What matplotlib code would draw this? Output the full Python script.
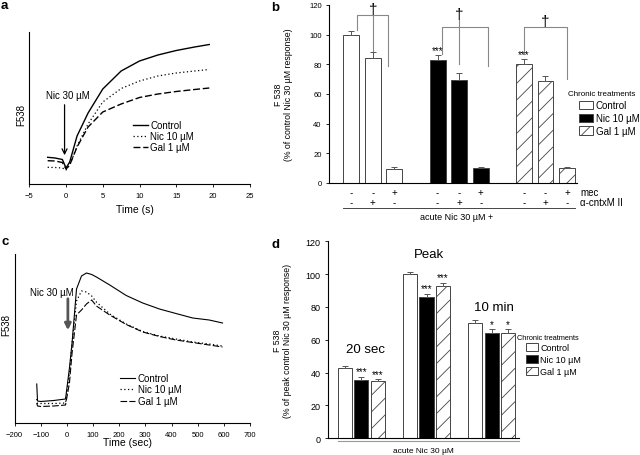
import matplotlib
matplotlib.use("Agg")
import matplotlib.pyplot as plt
from matplotlib.patches import Patch

plt.rcParams['font.family'] = ['Liberation Sans', 'DejaVu Sans']
plt.rcParams['hatch.linewidth'] = 0.6
plt.rcParams['axes.linewidth'] = 0.8

# ---- panel a: fast time course (arbitrary F538 units)
a_time = [-2.5, -1.5, -0.5, 0, 0.5, 1.5, 3, 5, 7.5, 10, 12.5, 15, 17.5, 19.5]
a_control = [26.7, 26, 24.5, 16, 22, 48, 71, 95, 113, 123, 129, 133.5, 137, 139.5]
a_nic = [16.7, 16.5, 16, 14, 19, 38, 60, 82, 95.5, 103, 108, 111, 113, 114.5]
a_gal = [23.3, 23, 21.5, 15, 19, 37, 57, 72, 80, 86.5, 90, 92.5, 94.5, 96]

# ---- panel c: slow time course (arbitrary F538 units)
c_time = [-115, -112, -100, -50, -5, 10, 20, 37, 56, 75, 95, 113, 164, 227, 290,
          354, 417, 481, 544, 595]
c_control = [39, 22, 21.5, 22.5, 24, 55, 80, 134, 147, 150, 148.5, 146, 138, 127.5,
             120, 114, 109.5, 105, 103, 100]
c_nic = [24, 19.5, 19.5, 19.5, 20, 50, 80, 122, 132, 131, 127, 121, 109, 99, 91.5,
         87, 84, 81, 79, 77]
c_gal = [20, 17, 16.5, 17, 18, 40, 70, 108, 113, 119, 123, 117, 108, 98.5, 91,
         86.5, 83, 80.5, 78, 76]

# ---- panel b: % of control Nic 30 uM response
treatments = ['Control', 'Nic 10 \u00b5M', 'Gal 1 \u00b5M']
b_control = [100, 84.5, 9.5]
b_nic = [83, 69.5, 10]
b_gal = [80, 68.5, 10]
b_control_err = [2.5, 4, 1.5]
b_nic_err = [3.5, 4.5, 0.5]
b_gal_err = [3.5, 3.5, 1]
mec = ['-', '-', '+']
cntx = ['-', '+', '-']

# ---- panel d: % of peak control Nic 30 uM response
timepoints = ['20 sec', 'Peak', '10 min']
d_control = [43, 100, 70]
d_nic = [35.6, 86.2, 64.2]
d_gal = [34.6, 92.7, 64.2]
d_control_err = [1.2, 1.2, 1.8]
d_nic_err = [1.8, 2, 2.2]
d_gal_err = [1.4, 2, 2.2]
d_stars = [['', '***', '***'], ['', '***', '***'], ['', '*', '*']]

fills = ['white', 'black', 'white']
hatches = [None, None, '//']
EDGE = '#444444'
W, H = 640, 456


def fig_rect(x0, y0, x1, y1):
    # pixel box (top-left origin) -> figure fraction
    return [x0 / W, 1 - y1 / H, (x1 - x0) / W, (y1 - y0) / H]


def style_trace_axes(ax):
    for s in ['top', 'right']:
        ax.spines[s].set_visible(False)
    ax.set_yticks([])
    ax.tick_params(axis='x', direction='out', length=2.5, width=0.6, labelsize=5.5, pad=3)


def style_bar_axes(ax, labelsize):
    for s in ['top', 'right']:
        ax.spines[s].set_visible(False)
    ax.set_ylim(0, 120)
    ax.set_yticks(range(0, 121, 20))
    ax.set_xticks([])
    ax.tick_params(axis='y', direction='out', length=2.5, width=0.6,
                   labelsize=labelsize, pad=3)


fig = plt.figure(figsize=(6.4, 4.56), dpi=100)

# ================= a
ax = fig.add_axes(fig_rect(29.3, 33, 249.7, 185))
style_trace_axes(ax)
ax.plot(a_time, a_control, color='black', lw=1.0, label='Control')
ax.plot(a_time, a_nic, color='black', lw=0.9, ls=(0, (1, 2)), label='Nic 10 \u00b5M')
ax.plot(a_time, a_gal, color='black', lw=1.0, ls=(0, (5, 2)), label='Gal 1 \u00b5M')
ax.set_xlim(-5, 25)
ax.set_ylim(0, 152)
ax.set_xticks(range(-5, 26, 5))
ax.annotate('', xy=(-0.2, 26), xytext=(-0.2, 82),
            arrowprops=dict(arrowstyle='->', color='black', lw=0.9, mutation_scale=9))
ax.text(0.2, 89, 'Nic 30 \u00b5M', ha='center', va='center', fontsize=7)
ax.set_ylabel('F538', fontsize=7)
ax.yaxis.set_label_coords(-0.012, 0.46)
ax.set_xlabel('Time (s)', fontsize=7.5)
ax.xaxis.set_label_coords(0.48, -0.13)
ax.legend(loc='upper left', bbox_to_anchor=(133 / W, 1 - 121 / H),
          bbox_transform=fig.transFigure, frameon=False, fontsize=7,
          borderpad=0, borderaxespad=0, handlelength=1.5, handletextpad=0.3,
          labelspacing=0.1)

# ================= c
ax = fig.add_axes(fig_rect(14.5, 255, 250, 424))
style_trace_axes(ax)
ax.plot(c_time, c_control, color='black', lw=0.8, label='Control')
ax.plot(c_time, c_nic, color='black', lw=0.9, ls=(0, (1, 2)), label='Nic 10 \u00b5M')
ax.plot(c_time, c_gal, color='black', lw=0.8, ls=(0, (6, 2)), label='Gal 1 \u00b5M')
ax.set_xlim(-200, 700)
ax.set_ylim(0, 169)
ax.set_xticks(range(-200, 701, 100))
ax.annotate('', xy=(4, 90), xytext=(4, 127),
            arrowprops=dict(arrowstyle='-|>', color='#555555', lw=2, mutation_scale=9))
ax.text(-58, 131, 'Nic 30 \u00b5M', ha='center', va='center', fontsize=7)
ax.set_ylabel('F538', fontsize=7)
ax.yaxis.set_label_coords(-0.012, 0.586)
ax.set_xlabel('Time (sec)', fontsize=7.5)
ax.xaxis.set_label_coords(0.478, -0.083)
ax.legend(loc='upper left', bbox_to_anchor=(120 / W, 1 - 374 / H),
          bbox_transform=fig.transFigure, frameon=False, fontsize=7,
          borderpad=0, borderaxespad=0, handlelength=1.5, handletextpad=0.3,
          labelspacing=0.15)

# ================= b
ax = fig.add_axes(fig_rect(329.3, 6, 577, 184))
style_bar_axes(ax, 5.5)
ax.set_xlim(-1.02, 10.46)
b_vals = [b_control, b_nic, b_gal]
b_errs = [b_control_err, b_nic_err, b_gal_err]
trx = ax.get_xaxis_transform()
for g, (vals, errs) in enumerate(zip(b_vals, b_errs)):
    xs = [g * 4 + i for i in range(3)]
    ax.bar(xs, vals, width=0.74, color=fills[g], edgecolor=EDGE, linewidth=0.7,
           hatch=hatches[g], yerr=[[0] * 3, errs], capsize=2.5,
           error_kw=dict(ecolor='#555555', elinewidth=0.7, capthick=0.7))
    for i, x in enumerate(xs):
        ax.text(x, -0.05, mec[i], transform=trx, ha='center', va='center', fontsize=7)
        ax.text(x, -0.107, cntx[i], transform=trx, ha='center', va='center', fontsize=7)
ax.text(10.6, -0.05, 'mec', transform=trx, ha='left', va='center', fontsize=7)
ax.text(10.6, -0.107, '\u03b1-cntxM II', transform=trx, ha='left', va='center', fontsize=7)
ax.plot([-0.39, 10.38], [-0.14, -0.14], transform=trx, color='#444444', lw=0.7,
        clip_on=False)
ax.text(4.9, -0.19, 'acute Nic 30 \u00b5M +', transform=trx, ha='center',
        va='center', fontsize=6.5)
ax.text(4, 86.5, '***', ha='center', va='bottom', fontsize=7)
ax.text(8, 83.5, '***', ha='center', va='bottom', fontsize=7)

# dagger brackets
GR = '#888888'
ax.plot([0.25, 0.25, 1.7, 1.7], [103, 113.5, 113.5, 79], color=GR, lw=0.8)
ax.plot([1, 1], [89, 113], color=GR, lw=0.8)
ax.text(1, 117.5, '\u2020', ha='center', va='center', fontsize=11)
ax.plot([4.19, 4.19, 6.35, 6.35], [87, 105, 105, 79], color=GR, lw=0.8)
ax.plot([5, 5], [80, 110], color=GR, lw=0.8)
ax.text(5, 114, '\u2020', ha='center', va='center', fontsize=11)
ax.plot([8, 8, 9.98, 9.98], [87, 105, 105, 70], color=GR, lw=0.8)
ax.text(9, 109, '\u2020', ha='center', va='center', fontsize=11)

ax.set_ylabel('F 538\n(% of control Nic 30 \u00b5M response)', fontsize=6.3,
              linespacing=1.1)
ax.yaxis.set_label_coords(-0.147, 0.5)
fig.text(568 / W, 1 - 95 / H, 'Chronic treatments', fontsize=5.8, ha='left', va='center')
handles = [Patch(facecolor=fills[k], edgecolor=EDGE, hatch=hatches[k], linewidth=0.7)
           for k in range(3)]
ax.legend(handles, treatments, loc='upper left', bbox_to_anchor=(579 / W, 1 - 101 / H),
          bbox_transform=fig.transFigure, frameon=False, fontsize=7, borderpad=0,
          borderaxespad=0, handlelength=1.4, handleheight=0.9, handletextpad=0.3,
          labelspacing=0.3)

# ================= d
ax = fig.add_axes(fig_rect(328.3, 242.3, 519, 439.3))
style_bar_axes(ax, 6.5)
ax.set_xlim(-1.02, 10.67)
d_vals = [d_control, d_nic, d_gal]
d_errs = [d_control_err, d_nic_err, d_gal_err]
for k in range(3):
    xs = [g * 4 + k for g in range(3)]
    ax.bar(xs, d_vals[k], width=0.86, color=fills[k], edgecolor=EDGE, linewidth=0.7,
           hatch=hatches[k], yerr=[[0] * 3, d_errs[k]], capsize=2.5,
           error_kw=dict(ecolor='#555555', elinewidth=0.7, capthick=0.7))
    for g in range(3):
        if d_stars[g][k]:
            ax.text(g * 4 + k, d_vals[k][g] + d_errs[k][g] + 0.3, d_stars[g][k],
                    ha='center', va='bottom', fontsize=7)
ax.text(1.29, 54.7, timepoints[0], ha='center', va='center', fontsize=9.5)
ax.text(5.15, 112, timepoints[1], ha='center', va='center', fontsize=9.5)
ax.text(9.15, 80, timepoints[2], ha='center', va='center', fontsize=9.5)
trx = ax.get_xaxis_transform()
ax.plot([-0.43, 10.67], [-0.014, -0.014], transform=trx, color='#999999', lw=0.8,
        clip_on=False)
ax.text(4.79, -0.06, 'acute Nic 30 \u00b5M', transform=trx, ha='center',
        va='center', fontsize=6)
ax.set_ylabel('F 538\n(% of peak control Nic 30 \u00b5M response)', fontsize=6.3,
              linespacing=1.1)
ax.yaxis.set_label_coords(-0.19, 0.5)
fig.text(517 / W, 1 - 339 / H, 'Chronic treatments', fontsize=5.3, ha='left', va='center')
ax.legend(handles, treatments, loc='upper left', bbox_to_anchor=(526 / W, 1 - 344 / H),
          bbox_transform=fig.transFigure, frameon=False, fontsize=6.5, borderpad=0,
          borderaxespad=0, handlelength=1.3, handleheight=0.9, handletextpad=0.3,
          labelspacing=0.35)

# panel letters
for letter, x, y in [('a', 1, 0), ('b', 271, 2), ('c', 1, 236), ('d', 271, 239)]:
    fig.text(x / W, 1 - y / H, letter, fontsize=9.5, fontweight='bold', ha='left', va='top')

fig.savefig('out.png', dpi=100)
